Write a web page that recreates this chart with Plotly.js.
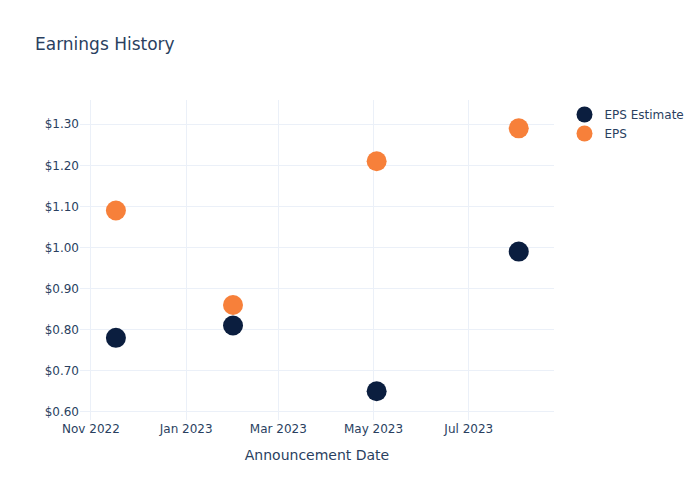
<!DOCTYPE html>
<html>
<head>
<meta charset="utf-8">
<script src="https://cdn.plot.ly/plotly-3.0.1.min.js"></script>
<style>html,body{margin:0;padding:0;background:#fff;}#chart{width:700px;height:500px;}</style>
</head>
<body>
<div id="chart"></div>
<script>
const dates = ["2022-11-17", "2023-01-31", "2023-05-03", "2023-08-02"];
const epsEstimate = [0.78, 0.81, 0.65, 0.99];
const eps = [1.09, 0.86, 1.21, 1.29];
const seriesNames = ["EPS Estimate", "EPS"];
const seriesColors = ["#0b1e3f", "#f7803a"];

const traces = [
  {x: dates, y: epsEstimate, name: seriesNames[0], type: "scatter", mode: "markers",
   marker: {size: 20, color: seriesColors[0]}},
  {x: dates, y: eps, name: seriesNames[1], type: "scatter", mode: "markers",
   marker: {size: 20, color: seriesColors[1]}}
];

const layout = {
  width: 700, height: 500,
  font: {family: "DejaVu Sans, sans-serif", color: "#2a3f5f", size: 12},
  title: {text: "Earnings History", x: 0.05, font: {size: 17, color: "#2a3f5f"}},
  paper_bgcolor: "#fff", plot_bgcolor: "#fff",
  margin: {l: 80, r: 145, t: 100, b: 80},
  xaxis: {
    title: {text: "Announcement Date", font: {size: 14}, standoff: 15},
    automargin: true,
    type: "date",
    range: ["2022-10-25", "2023-08-24 14:00"],
    dtick: "M2", tick0: "2022-11-01", tickformat: "%b %Y",
    gridcolor: "#EBF0F8", showline: false, zeroline: false
  },
  yaxis: {
    range: [0.58, 1.359],
    dtick: 0.1, tick0: 0.6, tickprefix: "$", tickformat: ".2f",
    gridcolor: "#EBF0F8", showline: false, zeroline: false
  },
  legend: {x: 1.02, y: 1, xanchor: "left", yanchor: "top", font: {size: 12}},
  showlegend: true
};

Plotly.newPlot("chart", traces, layout, {displayModeBar: false});
</script>
</body>
</html>
